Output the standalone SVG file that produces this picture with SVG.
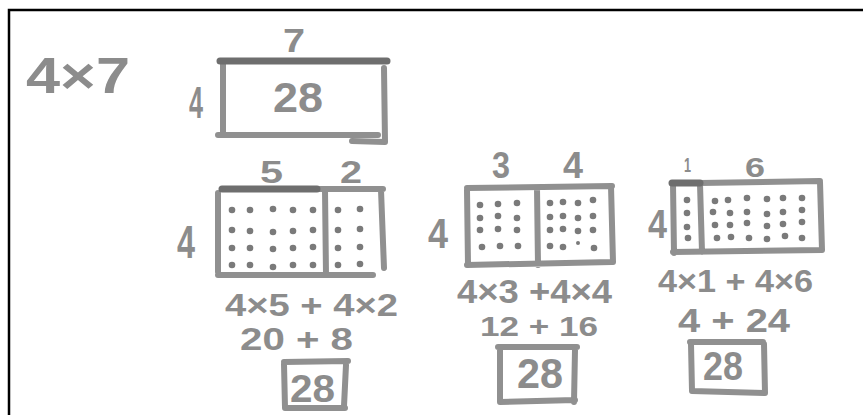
<svg xmlns="http://www.w3.org/2000/svg" width="863" height="415" viewBox="0 0 863 415">
<style>
.hw{font-family:"Liberation Sans",Arial,sans-serif;font-weight:bold;fill:#8c8c8c}
.m{fill:none;stroke:#909090;stroke-width:6;stroke-linecap:round;stroke-linejoin:round}
.d{fill:none;stroke:#6e6e6e;stroke-width:7;stroke-linecap:round}
.dot{fill:#7a7a7a}
</style>
<rect width="863" height="415" fill="#ffffff"/>
<path d="M9 415 V10 H863" fill="none" stroke="#000" stroke-width="2.5"/>
<g id="title">
<text class="hw" x="26" y="93" font-size="50" textLength="104" lengthAdjust="spacingAndGlyphs">4×7</text>
</g>
<g id="rect-whole">
<path class="m" d="M223 63 L223 133 M218 135 L378 135 M384 68 L385 142 L352 141"/>
<path class="d" d="M220 61 L387 61"/>
<text class="hw" x="283" y="52" font-size="34" textLength="22" lengthAdjust="spacingAndGlyphs">7</text>
<text class="hw" x="189" y="118" font-size="44" textLength="14" lengthAdjust="spacingAndGlyphs">4</text>
<text class="hw" x="273" y="112" font-size="42" textLength="50" lengthAdjust="spacingAndGlyphs">28</text>
</g>
<g id="split-5-2">
<path class="m" d="M317 189 L383 189 M218 193 L218 272 M218 275 L373 275 M381 190 L384 268 M325 190 L326 275"/>
<path class="d" d="M222 189 L317 189"/>
<g class="dot">
<circle cx="232" cy="210" r="3.3"/><circle cx="250" cy="210" r="3.3"/><circle cx="273" cy="209" r="3.3"/><circle cx="293" cy="210" r="3.3"/><circle cx="313" cy="210" r="3.3"/>
<circle cx="232" cy="230" r="3.3"/><circle cx="250" cy="231" r="3.3"/><circle cx="273" cy="232" r="3.3"/><circle cx="293" cy="231" r="3.3"/><circle cx="313" cy="230" r="3.3"/>
<circle cx="232" cy="248" r="3.3"/><circle cx="250" cy="248" r="3.3"/><circle cx="273" cy="249" r="3.3"/><circle cx="293" cy="248" r="3.3"/><circle cx="313" cy="247" r="3.3"/>
<circle cx="232" cy="265" r="3.3"/><circle cx="250" cy="265" r="3.3"/><circle cx="273" cy="267" r="3.3"/><circle cx="293" cy="265" r="3.3"/><circle cx="313" cy="265" r="3.3"/>
<circle cx="338" cy="210" r="3.3"/><circle cx="360" cy="209" r="3.3"/>
<circle cx="338" cy="230" r="3.3"/><circle cx="360" cy="229" r="3.3"/>
<circle cx="338" cy="248" r="3.3"/><circle cx="360" cy="247" r="3.3"/>
<circle cx="338" cy="265" r="3.3"/><circle cx="360" cy="264" r="3.3"/>
</g>
<text class="hw" x="260" y="183" font-size="32" textLength="23" lengthAdjust="spacingAndGlyphs">5</text>
<text class="hw" x="340" y="183" font-size="32" textLength="22" lengthAdjust="spacingAndGlyphs">2</text>
<text class="hw" x="177" y="258" font-size="46" textLength="18" lengthAdjust="spacingAndGlyphs">4</text>
<text class="hw" x="225" y="316" font-size="31" textLength="173" lengthAdjust="spacingAndGlyphs">4×5 + 4×2</text>
<text class="hw" x="240" y="350" font-size="31" textLength="113" lengthAdjust="spacingAndGlyphs">20 + 8</text>
<path class="m" d="M284 362 L348 361 M284 364 L285 408 L345 408 M346 365 L344 406"/>
<text class="hw" x="290" y="402" font-size="38" textLength="45" lengthAdjust="spacingAndGlyphs">28</text>
</g>
<g id="split-3-4">
<path class="m" d="M467 188 L612 186 M467 190 L468 265 M467 265 L612 262 M611 186 L613 262 M537 188 L538 265"/>
<g class="dot">
<circle cx="480" cy="205" r="3.3"/><circle cx="498" cy="204" r="3.3"/><circle cx="517" cy="203" r="3.3"/>
<circle cx="480" cy="218" r="3.3"/><circle cx="498" cy="216" r="3.3"/><circle cx="517" cy="218" r="3.3"/>
<circle cx="480" cy="230" r="3.3"/><circle cx="498" cy="229" r="3.3"/><circle cx="517" cy="230" r="3.3"/>
<circle cx="482" cy="247" r="3.3"/><circle cx="500" cy="246" r="3.3"/><circle cx="518" cy="246" r="3.3"/>
<circle cx="550" cy="203" r="3.3"/><circle cx="563" cy="202" r="3.3"/><circle cx="578" cy="203" r="3.3"/><circle cx="593" cy="200" r="3.3"/>
<circle cx="550" cy="217" r="3.3"/><circle cx="563" cy="216" r="3.3"/><circle cx="578" cy="218" r="3.3"/><circle cx="593" cy="216" r="3.3"/>
<circle cx="550" cy="230" r="3.3"/><circle cx="563" cy="229" r="3.3"/><circle cx="578" cy="231" r="3.3"/><circle cx="593" cy="230" r="3.3"/>
<circle cx="550" cy="246" r="3.3"/><circle cx="563" cy="247" r="3.3"/><circle cx="578" cy="243" r="2"/><circle cx="594" cy="248" r="3.3"/>
</g>
<text class="hw" x="492" y="178" font-size="37" textLength="18" lengthAdjust="spacingAndGlyphs">3</text>
<text class="hw" x="563" y="178" font-size="37" textLength="20" lengthAdjust="spacingAndGlyphs">4</text>
<text class="hw" x="428" y="248" font-size="42" textLength="20" lengthAdjust="spacingAndGlyphs">4</text>
<text class="hw" x="457" y="303" font-size="33" textLength="155" lengthAdjust="spacingAndGlyphs">4×3 +4×4</text>
<text class="hw" x="480" y="336" font-size="28" textLength="118" lengthAdjust="spacingAndGlyphs">12 + 16</text>
<path class="m" d="M498 347 L577 347 M500 349 L500 402 L575 400 M575 350 L574 402"/>
<text class="hw" x="517" y="388" font-size="42" textLength="46" lengthAdjust="spacingAndGlyphs">28</text>
</g>
<g id="split-1-6">
<path class="m" d="M700 183 L820 181 M673 184 L674 253 M673 252 L822 250 M820 182 L822 250 M700 184 L702 252"/>
<path class="d" d="M672 183 L700 183"/>
<g class="dot">
<circle cx="687" cy="200" r="3.3"/><circle cx="687" cy="213" r="3.3"/><circle cx="687" cy="227" r="3.3"/><circle cx="688" cy="238" r="3.3"/>
<circle cx="715" cy="201" r="3.3"/><circle cx="728" cy="200" r="3.3"/><circle cx="747" cy="198" r="3.3"/><circle cx="767" cy="199" r="3.3"/><circle cx="783" cy="198" r="3.3"/><circle cx="802" cy="198" r="3.3"/>
<circle cx="713" cy="212" r="3.3"/><circle cx="730" cy="213" r="3.3"/><circle cx="747" cy="212" r="3.3"/><circle cx="767" cy="214" r="3.3"/><circle cx="783" cy="212" r="3.3"/><circle cx="802" cy="210" r="3.3"/>
<circle cx="715" cy="225" r="3.3"/><circle cx="730" cy="225" r="3.3"/><circle cx="747" cy="223" r="3.3"/><circle cx="767" cy="226" r="3.3"/><circle cx="783" cy="224" r="3.3"/><circle cx="802" cy="222" r="3.3"/>
<circle cx="717" cy="238" r="3.3"/><circle cx="731" cy="237" r="3.3"/><circle cx="749" cy="238" r="3.3"/><circle cx="767" cy="239" r="3.3"/><circle cx="785" cy="236" r="3.3"/><circle cx="802" cy="238" r="3.3"/>
</g>
<text class="hw" x="684" y="172" font-size="20" textLength="7" lengthAdjust="spacingAndGlyphs">1</text>
<text class="hw" x="745" y="177" font-size="27" textLength="20" lengthAdjust="spacingAndGlyphs">6</text>
<text class="hw" x="648" y="238" font-size="40" textLength="19" lengthAdjust="spacingAndGlyphs">4</text>
<text class="hw" x="658" y="292" font-size="31" textLength="155" lengthAdjust="spacingAndGlyphs">4×1 + 4×6</text>
<text class="hw" x="678" y="332" font-size="33" textLength="112" lengthAdjust="spacingAndGlyphs">4 + 24</text>
<path class="m" d="M690 342 L763 342 M691 344 L692 391 L765 393 M764 344 L765 393"/>
<text class="hw" x="703" y="380" font-size="40" textLength="40" lengthAdjust="spacingAndGlyphs">28</text>
</g>
</svg>
